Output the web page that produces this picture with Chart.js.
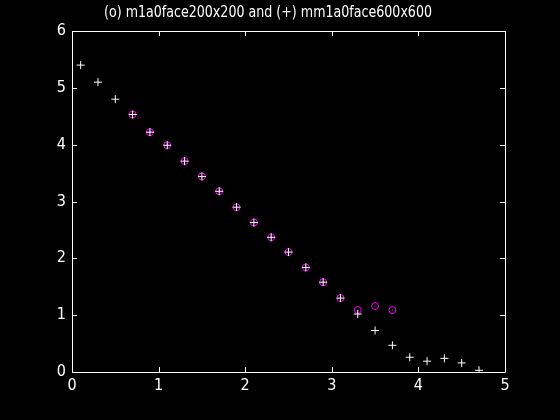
<!DOCTYPE html>
<html>
<head>
<meta charset="utf-8">
<script src="https://cdn.jsdelivr.net/npm/chart.js@4"></script>
<style>
html,body{margin:0;padding:0;background:#000;}
#wrap{width:560px;height:420px;}
</style>
</head>
<body>
<div id="wrap"><canvas id="c"></canvas></div>
<script>
const titleText = "(o) m1a0face200x200 and (+) mm1a0face600x600";
const xPlus = [0.1,0.3,0.5,0.7,0.9,1.1,1.3,1.5,1.7,1.9,2.1,2.3,2.5,2.7,2.9,3.1,3.3,3.5,3.7,3.9,4.1,4.3,4.5,4.7];
const yPlus = [5.40,5.10,4.80,4.53,4.22,3.99,3.71,3.44,3.18,2.90,2.63,2.37,2.11,1.84,1.58,1.30,1.02,0.73,0.47,0.26,0.19,0.24,0.16,0.03];
const xCirc = [0.7,0.9,1.1,1.3,1.5,1.7,1.9,2.1,2.3,2.5,2.7,2.9,3.1,3.3,3.5,3.7];
const yCirc = [4.53,4.22,3.99,3.71,3.44,3.18,2.90,2.63,2.37,2.11,1.84,1.58,1.30,1.09,1.16,1.09];
const xTicks = [0,1,2,3,4,5];
const yTicks = [0,1,2,3,4,5,6];

const FONT = "'Liberation Sans Narrow','DejaVu Sans Condensed','Liberation Sans',sans-serif";
const pts = (xs, ys) => xs.map((x, i) => ({x: x, y: ys[i]}));

const bgAndFrame = {
  id: 'bgAndFrame',
  beforeDraw(chart) {
    const ctx = chart.ctx;
    ctx.save();
    ctx.fillStyle = '#000';
    ctx.fillRect(0, 0, chart.width, chart.height);
    ctx.restore();
  },
  afterDatasetsDraw(chart) {
    const ctx = chart.ctx, a = chart.chartArea;
    const xs = chart.scales.x, ys = chart.scales.y;
    const L = 5;
    ctx.save();
    ctx.strokeStyle = '#fff';
    ctx.lineWidth = 1;
    ctx.beginPath();
    ctx.rect(Math.round(a.left) + 0.5, Math.round(a.top) + 0.5, Math.round(a.right - a.left), Math.round(a.bottom - a.top));
    xTicks.forEach(v => {
      const px = Math.round(xs.getPixelForValue(v)) + 0.5;
      ctx.moveTo(px, a.bottom); ctx.lineTo(px, a.bottom - L);
      ctx.moveTo(px, a.top); ctx.lineTo(px, a.top + L);
    });
    yTicks.forEach(v => {
      const py = Math.round(ys.getPixelForValue(v)) + 0.5;
      ctx.moveTo(a.left, py); ctx.lineTo(a.left + L, py);
      ctx.moveTo(a.right, py); ctx.lineTo(a.right - L, py);
    });
    ctx.stroke();
    // title (narrowed horizontally to match the reference's condensed face)
    ctx.fillStyle = '#fff';
    ctx.font = '16px ' + FONT;
    ctx.textAlign = 'center';
    ctx.textBaseline = 'middle';
    const w = ctx.measureText(titleText).width;
    const sx = Math.min(1, 328 / w);
    ctx.translate(268, 13);
    ctx.scale(sx, 1);
    ctx.fillText(titleText, 0, 0);
    ctx.restore();
  }
};

new Chart(document.getElementById('c'), {
  type: 'scatter',
  data: {
    datasets: [
      {
        label: '+',
        data: pts(xPlus, yPlus),
        pointStyle: 'cross',
        pointRadius: 4,
        pointBorderColor: '#fff',
        pointBorderWidth: 1,
        order: 0
      },
      {
        label: 'o',
        data: pts(xCirc, yCirc),
        pointStyle: 'circle',
        pointRadius: 3.5,
        pointBorderColor: '#ff00ff',
        pointBackgroundColor: 'rgba(0,0,0,0)',
        pointBorderWidth: 1,
        order: 1
      },
      {
        label: 'o-center',
        data: pts(xCirc, yCirc),
        pointStyle: 'circle',
        pointRadius: 0.6,
        pointBorderColor: '#ff00ff',
        pointBackgroundColor: '#ff00ff',
        pointBorderWidth: 0,
        order: 2
      }
    ]
  },
  options: {
    responsive: true,
    maintainAspectRatio: false,
    animation: false,
    layout: {padding: {left: 0, right: 55, top: 31, bottom: 0}},
    plugins: {
      legend: {display: false},
      tooltip: {enabled: false},
      title: {display: false}
    },
    scales: {
      x: {
        type: 'linear',
        min: 0, max: 5,
        afterBuildTicks: s => { s.ticks = xTicks.map(v => ({value: v})); },
        afterFit: s => { s.height = 48; },
        grid: {display: false, drawTicks: false},
        border: {display: false},
        ticks: {color: '#fff', font: {family: FONT, size: 16}, padding: 4, maxRotation: 0}
      },
      y: {
        type: 'linear',
        min: 0, max: 6,
        afterBuildTicks: s => { s.ticks = yTicks.map(v => ({value: v})); },
        afterFit: s => { s.width = 72; },
        grid: {display: false, drawTicks: false},
        border: {display: false},
        ticks: {color: '#fff', font: {family: FONT, size: 16}, padding: 6}
      }
    }
  },
  plugins: [bgAndFrame]
});
</script>
</body>
</html>
